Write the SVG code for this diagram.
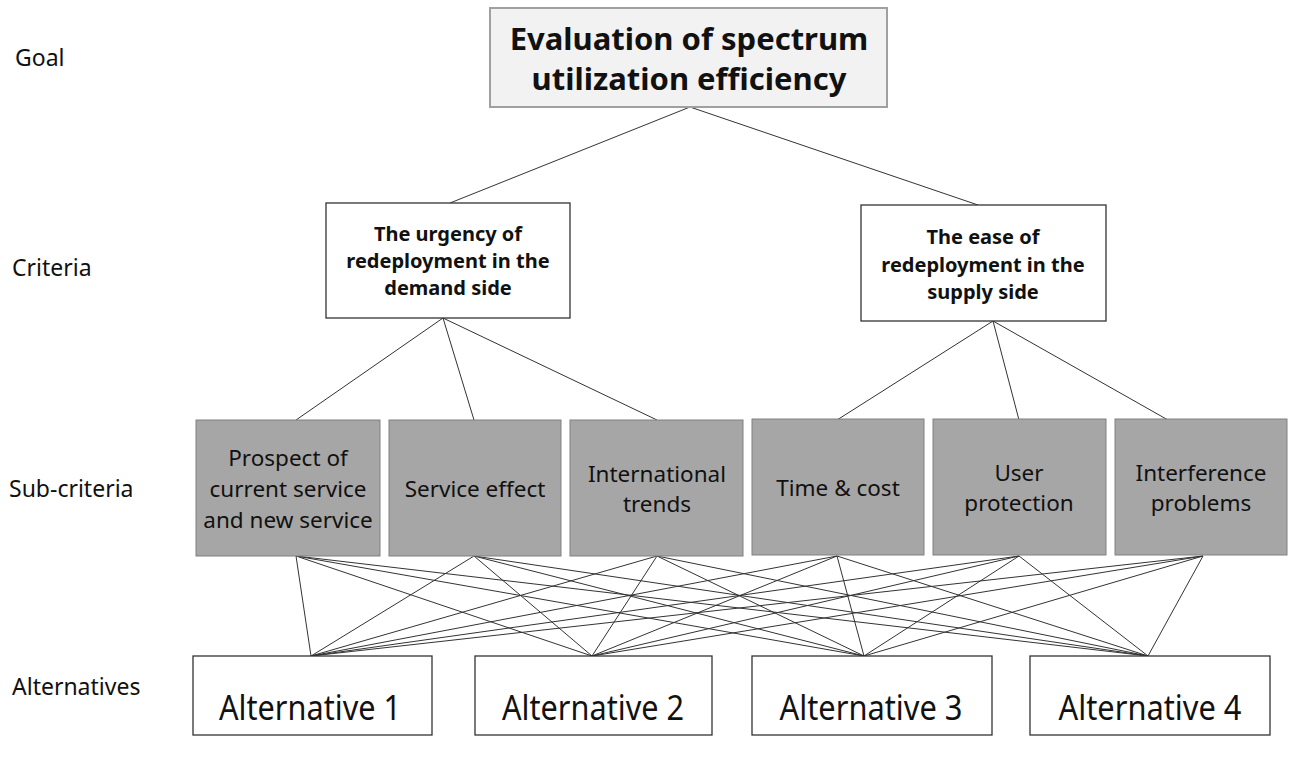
<svg xmlns="http://www.w3.org/2000/svg" width="1290" height="762" viewBox="0 0 1290 762">
<style>
text{font-family:"Noto Sans","Open Sans","DejaVu Sans",sans-serif;fill:#111;text-anchor:middle}
.lvl{font-size:23px;text-anchor:start;fill:#111}
.goal{fill:#f2f2f2;stroke:#a0a0a0;stroke-width:2}
.crit{fill:#fff;stroke:#333;stroke-width:1.3}
.sub{fill:#a6a6a6;stroke:#808080;stroke-width:1}
.alt{fill:#fff;stroke:#333;stroke-width:1.3}
.gt{font-size:31px;font-weight:bold}
.ct{font-size:20px;font-weight:bold}
.st{font-size:22.5px}
.at{font-size:35px}
.conn line{stroke:#333;stroke-width:1}
</style>
<rect width="1290" height="762" fill="#fff"/>
<g id="labels">
<text class="lvl" x="15" y="66">Goal</text>
<text class="lvl" x="12" y="276">Criteria</text>
<text class="lvl" x="9" y="497">Sub-criteria</text>
<text class="lvl" x="12" y="695">Alternatives</text>
</g>
<g id="connectors" class="conn">
<line x1="690" y1="107" x2="450" y2="203"/>
<line x1="690" y1="107" x2="978" y2="205"/>
<line x1="443" y1="318" x2="296" y2="420"/>
<line x1="443" y1="318" x2="474" y2="420"/>
<line x1="443" y1="318" x2="657" y2="420"/>
<line x1="993" y1="321" x2="837" y2="420"/>
<line x1="993" y1="321" x2="1019" y2="420"/>
<line x1="993" y1="321" x2="1168" y2="420"/>
<line x1="296" y1="556" x2="311" y2="656"/><line x1="296" y1="556" x2="592" y2="656"/><line x1="296" y1="556" x2="864" y2="656"/><line x1="296" y1="556" x2="1148" y2="656"/>
<line x1="474" y1="556" x2="311" y2="656"/><line x1="474" y1="556" x2="592" y2="656"/><line x1="474" y1="556" x2="864" y2="656"/><line x1="474" y1="556" x2="1148" y2="656"/>
<line x1="657" y1="556" x2="311" y2="656"/><line x1="657" y1="556" x2="592" y2="656"/><line x1="657" y1="556" x2="864" y2="656"/><line x1="657" y1="556" x2="1148" y2="656"/>
<line x1="837" y1="556" x2="311" y2="656"/><line x1="837" y1="556" x2="592" y2="656"/><line x1="837" y1="556" x2="864" y2="656"/><line x1="837" y1="556" x2="1148" y2="656"/>
<line x1="1019" y1="556" x2="311" y2="656"/><line x1="1019" y1="556" x2="592" y2="656"/><line x1="1019" y1="556" x2="864" y2="656"/><line x1="1019" y1="556" x2="1148" y2="656"/>
<line x1="1203" y1="556" x2="311" y2="656"/><line x1="1203" y1="556" x2="592" y2="656"/><line x1="1203" y1="556" x2="864" y2="656"/><line x1="1203" y1="556" x2="1148" y2="656"/>
</g>
<g id="goal">
<rect class="goal" x="490" y="8" width="397" height="99"/>
<text class="gt" x="689" y="50">Evaluation of spectrum</text>
<text class="gt" x="689" y="90">utilization efficiency</text>
</g>
<g id="crit1">
<rect class="crit" x="326" y="203" width="244" height="115"/>
<text class="ct" x="448" y="241">The urgency of</text>
<text class="ct" x="448" y="268">redeployment in the</text>
<text class="ct" x="448" y="295">demand side</text>
</g>
<g id="crit2">
<rect class="crit" x="861" y="205" width="245" height="116"/>
<text class="ct" x="983" y="244">The ease of</text>
<text class="ct" x="983" y="272">redeployment in the</text>
<text class="ct" x="983" y="299">supply side</text>
</g>
<g id="sub1">
<rect class="sub" x="196" y="420" width="184" height="136"/>
<text class="st" x="288" y="466">Prospect of</text>
<text class="st" x="288" y="497">current service</text>
<text class="st" x="288" y="528">and new service</text>
</g>
<g id="sub2">
<rect class="sub" x="389" y="420" width="172" height="136"/>
<text class="st" x="475" y="497">Service effect</text>
</g>
<g id="sub3">
<rect class="sub" x="570" y="420" width="173" height="136"/>
<text class="st" x="657" y="482">International</text>
<text class="st" x="657" y="512">trends</text>
</g>
<g id="sub4">
<rect class="sub" x="752" y="419" width="172" height="136"/>
<text class="st" x="838" y="496">Time &amp; cost</text>
</g>
<g id="sub5">
<rect class="sub" x="933" y="419" width="173" height="136"/>
<text class="st" x="1019" y="481">User</text>
<text class="st" x="1019" y="511">protection</text>
</g>
<g id="sub6">
<rect class="sub" x="1115" y="419" width="172" height="136"/>
<text class="st" x="1201" y="481">Interference</text>
<text class="st" x="1201" y="511">problems</text>
</g>
<g id="alt1">
<rect class="alt" x="193" y="656" width="239" height="79"/>
<text class="at" x="310" y="720" textLength="182" lengthAdjust="spacingAndGlyphs">Alternative 1</text>
</g>
<g id="alt2">
<rect class="alt" x="475" y="656" width="237" height="79"/>
<text class="at" x="593" y="720" textLength="182" lengthAdjust="spacingAndGlyphs">Alternative 2</text>
</g>
<g id="alt3">
<rect class="alt" x="752" y="656" width="240" height="79"/>
<text class="at" x="871" y="720" textLength="183" lengthAdjust="spacingAndGlyphs">Alternative 3</text>
</g>
<g id="alt4">
<rect class="alt" x="1030" y="656" width="240" height="79"/>
<text class="at" x="1150" y="720" textLength="183" lengthAdjust="spacingAndGlyphs">Alternative 4</text>
</g>
</svg>
